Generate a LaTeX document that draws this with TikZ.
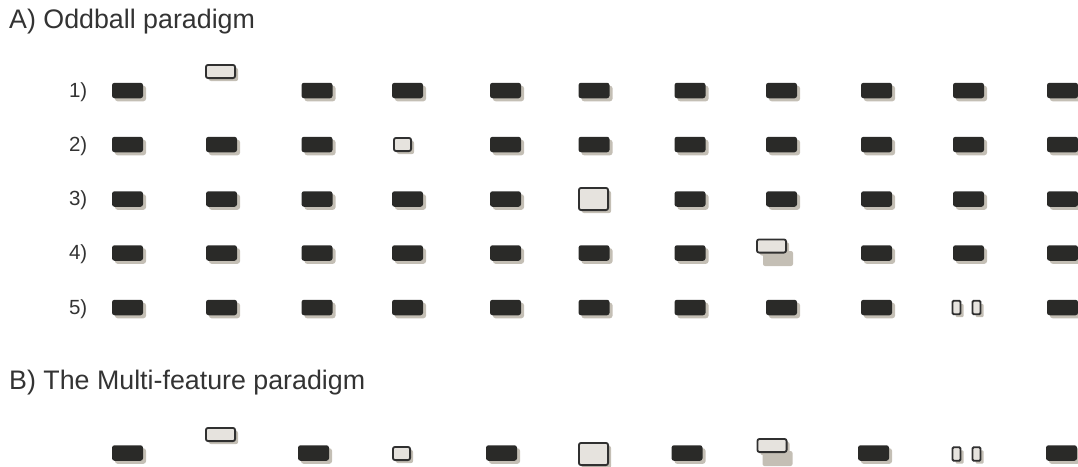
\documentclass[tikz,border=0pt]{standalone}
\usepackage{fontspec}
\setmainfont{Liberation Sans}
\usetikzlibrary{shadows}
\definecolor{stimdark}{HTML}{2A2A28}
\definecolor{stimlight}{HTML}{E6E3DE}
\definecolor{stimshadow}{HTML}{C4BFB5}
\definecolor{stimedge}{HTML}{303030}
\definecolor{txtc}{HTML}{333333}
\tikzset{
  stimbase/.style={rectangle, rounded corners=2.5pt, inner sep=0pt, outer sep=0pt,
    drop shadow={shadow xshift=3pt, shadow yshift=-3pt, fill=stimshadow, opacity=1}},
  std/.style={stimbase, fill=stimdark, minimum width=31pt, minimum height=15.5pt},
  dev/.style={stimbase, fill=stimlight, draw=stimedge, line width=1.8pt, rounded corners=2.2pt},
  devlong/.style={dev, minimum width=29.2pt, minimum height=13.2pt},
  devshort/.style={dev, minimum width=17.2pt, minimum height=13.2pt},
  devloud/.style={dev, minimum width=29.2pt, minimum height=22.2pt},
  devgap/.style={dev, minimum width=8pt, minimum height=13.4pt, rounded corners=1.2pt},
  devloc/.style={dev, minimum width=29.2pt, minimum height=13.2pt, drop shadow={opacity=0}},
  locshadow/.style={rectangle, rounded corners=2pt, fill=stimshadow, inner sep=0pt,
    minimum width=30pt, minimum height=15pt},
  title/.style={font=\fontsize{26.8}{30}\selectfont, text=txtc, anchor=base west, inner sep=0pt},
  rowlab/.style={font=\fontsize{20.5}{23}\selectfont, text=txtc, anchor=base east, inner sep=0pt},
}
\begin{document}
\begin{tikzpicture}[x=1pt,y=-1pt]
\useasboundingbox (0,0) rectangle (1078,466);

\node[title] (tA) at (9,28) {A) Oddball paradigm};
\node[title] (tB) at (9,389) {B) The Multi-feature paradigm};

% column centres
\def\cA{127.5}\def\cB{221.5}\def\cC{317}\def\cD{407.5}\def\cE{505.5}\def\cF{594}
\def\cG{690}\def\cH{781.5}\def\cI{876.5}\def\cJ{968.5}\def\cK{1062.5}

% Row 1 (y=90.5)
\node[rowlab] (l1) at (87.5,97) {1)};
\node[std] (r1c1) at (\cA,90.5) {};
\node[devlong] (r1c2) at (220.5,71.5) {};
\node[std] (r1c3) at (\cC,90.5) {};
\node[std] (r1c4) at (\cD,90.5) {};
\node[std] (r1c5) at (\cE,90.5) {};
\node[std] (r1c6) at (\cF,90.5) {};
\node[std] (r1c7) at (\cG,90.5) {};
\node[std] (r1c8) at (\cH,90.5) {};
\node[std] (r1c9) at (\cI,90.5) {};
\node[std] (r1c10) at (\cJ,90.5) {};
\node[std] (r1c11) at (\cK,90.5) {};

% Row 2 (y=144.5)
\node[rowlab] (l2) at (87.5,151) {2)};
\node[std] (r2c1) at (\cA,144.5) {};
\node[std] (r2c2) at (\cB,144.5) {};
\node[std] (r2c3) at (\cC,144.5) {};
\node[devshort] (r2c4) at (402.5,144.5) {};
\node[std] (r2c5) at (\cE,144.5) {};
\node[std] (r2c6) at (\cF,144.5) {};
\node[std] (r2c7) at (\cG,144.5) {};
\node[std] (r2c8) at (\cH,144.5) {};
\node[std] (r2c9) at (\cI,144.5) {};
\node[std] (r2c10) at (\cJ,144.5) {};
\node[std] (r2c11) at (\cK,144.5) {};

% Row 3 (y=199)
\node[rowlab] (l3) at (87.5,205.5) {3)};
\node[std] (r3c1) at (\cA,199) {};
\node[std] (r3c2) at (\cB,199) {};
\node[std] (r3c3) at (\cC,199) {};
\node[std] (r3c4) at (\cD,199) {};
\node[std] (r3c5) at (\cE,199) {};
\node[devloud] (r3c6) at (593.5,199) {};
\node[std] (r3c7) at (\cG,199) {};
\node[std] (r3c8) at (\cH,199) {};
\node[std] (r3c9) at (\cI,199) {};
\node[std] (r3c10) at (\cJ,199) {};
\node[std] (r3c11) at (\cK,199) {};

% Row 4 (y=253)
\node[rowlab] (l4) at (87.5,259.5) {4)};
\node[std] (r4c1) at (\cA,253) {};
\node[std] (r4c2) at (\cB,253) {};
\node[std] (r4c3) at (\cC,253) {};
\node[std] (r4c4) at (\cD,253) {};
\node[std] (r4c5) at (\cE,253) {};
\node[std] (r4c6) at (\cF,253) {};
\node[std] (r4c7) at (\cG,253) {};
\node[locshadow] (r4c8s) at (778,258.5) {};
\node[devloc] (r4c8) at (771.5,246) {};
\node[std] (r4c9) at (\cI,253) {};
\node[std] (r4c10) at (\cJ,253) {};
\node[std] (r4c11) at (\cK,253) {};

% Row 5 (y=307.5)
\node[rowlab] (l5) at (87.5,314) {5)};
\node[std] (r5c1) at (\cA,307.5) {};
\node[std] (r5c2) at (\cB,307.5) {};
\node[std] (r5c3) at (\cC,307.5) {};
\node[std] (r5c4) at (\cD,307.5) {};
\node[std] (r5c5) at (\cE,307.5) {};
\node[std] (r5c6) at (\cF,307.5) {};
\node[std] (r5c7) at (\cG,307.5) {};
\node[std] (r5c8) at (\cH,307.5) {};
\node[std] (r5c9) at (\cI,307.5) {};
\node[devgap] (r5c10a) at (956.5,307.5) {};
\node[devgap] (r5c10b) at (976.5,307.5) {};
\node[std] (r5c11) at (\cK,307.5) {};

% Row B (y=453)
\node[std] (bc1) at (\cA,453) {};
\node[devlong] (bc2) at (220.5,434.5) {};
\node[std] (bc3) at (313.5,453) {};
\node[devshort] (bc4) at (401.5,453.5) {};
\node[std] (bc5) at (501.5,453) {};
\node[devloud] (bc6) at (593.5,454) {};
\node[std] (bc7) at (687,453) {};
\node[locshadow] (bc8s) at (777.5,458.5) {};
\node[devloc] (bc8) at (772,445.5) {};
\node[std] (bc9) at (873.5,453) {};
\node[devgap] (bc10a) at (956.5,454) {};
\node[devgap] (bc10b) at (976.5,454) {};
\node[std] (bc11) at (1061.5,453) {};
\end{tikzpicture}
\end{document}
